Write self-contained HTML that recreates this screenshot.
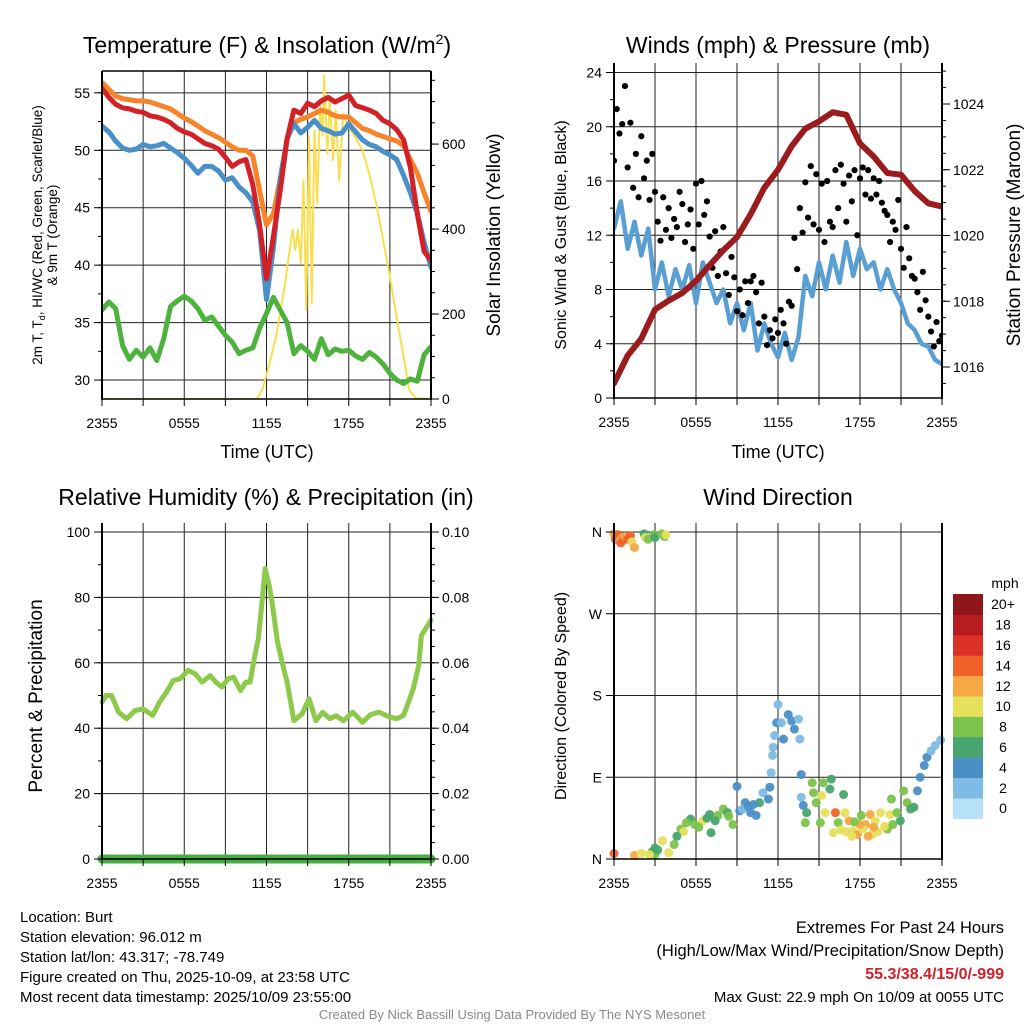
<!DOCTYPE html>
<html><head><meta charset="utf-8"><style>
html,body{margin:0;padding:0;background:#fff;}
svg{display:block;font-family:"Liberation Sans",Arial,sans-serif;}
</style></head><body>
<svg id="chart" width="1024" height="1024" viewBox="0 0 1024 1024" xmlns="http://www.w3.org/2000/svg">
<defs>
<clipPath id="c1"><rect x="102" y="70" width="329" height="329"/></clipPath>
<clipPath id="c2"><rect x="614" y="63" width="328" height="335"/></clipPath>
<clipPath id="c3"><rect x="95" y="523" width="345" height="345"/></clipPath>
<clipPath id="c4"><rect x="606" y="523" width="344" height="345"/></clipPath>
</defs>
<g id="layer"></g>
<text x="267" y="53" font-size="23" text-anchor="middle">Temperature (F) &amp; Insolation (W/m<tspan font-size="14" dy="-9">2</tspan><tspan dy="9">)</tspan></text>
<text x="778" y="53" font-size="23" text-anchor="middle">Winds (mph) &amp; Pressure (mb)</text>
<text x="266" y="505" font-size="23" text-anchor="middle">Relative Humidity (%) &amp; Precipitation (in)</text>
<text x="778" y="505" font-size="23" text-anchor="middle">Wind Direction</text>
<text x="267" y="458" font-size="18" text-anchor="middle">Time (UTC)</text>
<text x="778" y="458" font-size="18" text-anchor="middle">Time (UTC)</text>
<text transform="translate(42,235) rotate(-90)" font-size="13.5" text-anchor="middle">2m T, T<tspan font-size="9" dy="3">d</tspan><tspan dy="-3">, HI/WC (Red, Green, Scarlet/Blue)</tspan></text>
<text transform="translate(57,235) rotate(-90)" font-size="13.5" text-anchor="middle">&amp; 9m T (Orange)</text>
<text transform="translate(500,235) rotate(-90)" font-size="19" text-anchor="middle">Solar Insolation (Yellow)</text>
<text transform="translate(566,235) rotate(-90)" font-size="16" text-anchor="middle">Sonic Wind &amp; Gust (Blue, Black)</text>
<text transform="translate(1020,235) rotate(-90)" font-size="19" text-anchor="middle">Station Pressure (Maroon)</text>
<text transform="translate(42,696) rotate(-90)" font-size="19" text-anchor="middle">Percent &amp; Precipitation</text>
<text transform="translate(566,696) rotate(-90)" font-size="16" text-anchor="middle">Direction (Colored By Speed)</text>
<g font-size="15">
<text x="20" y="922">Location: Burt</text>
<text x="20" y="942">Station elevation: 96.012 m</text>
<text x="20" y="962">Station lat/lon: 43.317; -78.749</text>
<text x="20" y="982">Figure created on Thu, 2025-10-09, at 23:58 UTC</text>
<text x="20" y="1002">Most recent data timestamp: 2025/10/09 23:55:00</text>
</g>
<g text-anchor="end">
<text x="1004" y="933" font-size="16.5">Extremes For Past 24 Hours</text>
<text x="1004" y="956" font-size="16.5">(High/Low/Max Wind/Precipitation/Snow Depth)</text>
<text x="1004" y="979" font-size="16" font-weight="bold" fill="#d0202a">55.3/38.4/15/0/-999</text>
<text x="1004" y="1002" font-size="15">Max Gust: 22.9 mph On 10/09 at 0055 UTC</text>
</g>
<text x="512" y="1019" font-size="13" fill="#8a8a8a" text-anchor="middle">Created By Nick Bassill Using Data Provided By The NYS Mesonet</text>
</svg>
<script>
// ---- data (hours since 2355 UTC) ----
const halfHours = [0,0.5,1,1.5,2,2.5,3,3.5,4,4.5,5,5.5,6,6.5,7,7.5,8,8.5,9,9.5,10,10.5,11,11.5,12,12.5,13,13.5,14,14.5,15,15.5,16,16.5,17,17.5,18,18.5,19,19.5,20,20.5,21,21.5,22,22.5,23,23.5,24];
const tempRed = [55.4,54.6,54.0,53.7,53.6,53.4,53.3,53.0,52.9,52.7,52.4,51.9,51.6,51.4,51.0,50.6,50.4,50.1,49.4,48.6,49.0,49.2,47.0,43.5,38.8,42.5,46.5,51.0,53.5,53.2,54.1,53.8,54.3,54.6,54.2,54.5,54.8,53.9,53.7,53.5,53.2,52.6,52.3,51.8,50.9,48.5,44.5,41.2,40.4];
const tempOrange = [55.9,55.3,54.7,54.5,54.4,54.3,54.3,54.2,54.0,53.8,53.6,53.2,52.8,52.5,52.1,51.7,51.4,51.1,50.7,50.3,50.0,50.0,49.5,46.5,43.5,44.5,47.5,51.0,52.4,52.7,52.9,53.2,53.5,53.3,53.0,52.9,52.9,52.4,51.9,51.7,51.4,51.2,51.0,50.8,50.4,49.2,48.0,46.3,44.7];
const windChill = [52.1,51.6,50.8,50.2,50.0,50.1,50.5,50.3,50.4,50.6,50.2,49.8,49.3,48.7,48.0,48.6,48.6,48.2,47.4,47.6,46.8,46.3,45.5,43.0,37.0,41.5,47.5,51.0,52.3,51.5,52.0,52.6,51.9,51.7,51.4,51.5,52.3,51.6,50.9,50.5,50.3,49.9,49.6,49.2,47.8,46.3,44.5,42.0,39.8];
const dewPoint = [36.1,36.8,36.2,33.0,31.8,32.6,32.0,32.8,31.7,33.6,36.4,36.9,37.3,36.9,36.2,35.2,35.5,34.7,33.9,33.3,32.3,32.6,32.8,34.5,35.8,37.2,36.1,35.0,32.3,33.0,32.5,31.8,33.6,32.2,32.7,32.5,32.6,32.1,31.8,32.4,32.0,31.4,30.6,30.0,29.7,30.1,29.9,32.2,32.9];
const solarTimes = [0,11.3,11.7,12.2,12.7,13.3,13.9,14.1,14.3,14.5,14.7,14.9,15.1,15.3,15.5,15.7,15.9,16.1,16.2,16.45,16.6,16.85,17.05,17.3,17.6,18.0,18.5,19.0,19.5,20.0,20.5,21.0,21.5,22.0,22.4,22.9,24];
const solarVals = [0,0,22,80,147,260,398,351,398,320,515,210,617,225,633,460,690,620,762,578,711,562,680,515,672,640,615,586,530,460,375,288,190,100,22,2,0];
const windHalf = [12.5,14.5,11.0,13.0,10.5,12.5,8.0,10.0,7.5,9.5,8.0,9.8,7.0,10.0,8.5,7.0,8.0,5.5,7.0,5.0,7.0,3.5,5.5,4.0,3.0,4.8,2.8,4.5,9.0,7.5,10.0,8.0,10.5,8.5,11.5,9.0,11.0,9.5,10.0,8.0,9.5,8.0,7.0,5.5,5.0,4.0,3.8,2.8,2.5];
const gustVals = [17.5,21.3,19.5,20.2,23.0,17.0,20.3,15.5,18.0,14.8,19.3,16.2,17.5,14.6,18.0,15.2,13.0,11.6,14.8,12.4,14.0,11.8,13.2,12.6,15.2,14.3,11.5,12.8,13.9,11.0,15.8,12.8,16.0,13.5,14.5,11.9,9.6,12.3,9.0,10.8,12.6,9.2,7.6,10.4,8.9,6.4,8.0,6.1,8.6,7.0,8.6,9.0,7.8,5.5,8.5,6.0,3.9,5.0,4.4,5.8,4.8,6.5,5.5,4.0,7.1,6.8,11.8,9.5,14.0,12.2,15.9,13.3,17.1,12.8,16.5,12.4,15.8,11.5,16.0,13.0,12.6,16.8,14.0,17.2,15.8,13.0,16.4,14.5,16.8,12.0,16.2,17.0,15.0,16.8,14.7,16.2,15.0,16.0,14.4,13.8,13.5,11.5,13.0,12.4,14.6,11.0,9.6,12.6,10.3,9.0,8.8,7.8,6.5,9.3,7.2,6.0,4.9,3.8,5.6,4.2,4.6];
const gustStep = 0.2;
const pressHours = [0,1,2,3,4,5,6,7,8,9,10,11,12,13,14,15,16,17,18,19,20,21,22,23,24];
const pressVals = [1015.5,1016.35,1016.86,1017.75,1018.02,1018.25,1018.62,1019.1,1019.55,1019.95,1020.65,1021.45,1022.0,1022.72,1023.25,1023.47,1023.75,1023.67,1022.8,1022.4,1021.9,1021.85,1021.35,1020.98,1020.88];
const rhTimes = [0,0.3,0.7,1.2,1.8,2.4,3,3.7,4.2,4.7,5.2,5.7,6.3,6.8,7.3,7.9,8.3,8.75,9.2,9.6,10.1,10.5,10.8,11.1,11.4,11.7,11.9,12.2,12.4,12.8,13.2,13.5,14,14.6,15.1,15.6,16.1,16.6,17.1,17.6,18.3,19,19.6,20.2,21,21.5,22,22.7,23.1,23.3,23.7,24];
const rhVals = [48,50,50,44.9,42.9,45.4,45.9,43.9,48,51,54.6,55.1,57.7,56.6,54.1,56.1,54.1,52.6,55.1,55.6,51.5,54.1,54.1,61.2,67.3,79.6,88.8,83.7,78.6,66.3,59.2,54.1,42.3,44.4,49,42.3,44.9,42.9,43.8,42.3,44.9,41.8,44.2,44.9,43.4,42.9,43.9,52,59.2,68.4,71,73];
const precipTimes = [0,24];
const precipVals = [0,0];
const dirTimes = [0.0,0.1,0.2,0.3,0.4,0.5,0.6,0.7,0.8,1.0,1.2,1.3,1.5,2.2,2.3,2.5,2.9,3.0,3.5,3.7,3.8,0.0,1.5,2.0,2.8,3.0,3.55,4.0,4.4,4.9,5.1,5.6,5.9,6.5,7.1,7.0,7.6,8.0,8.3,8.7,9.0,9.2,9.6,10.0,10.4,10.65,10.9,11.3,11.4,11.5,11.6,11.65,11.75,11.9,12.0,12.25,12.4,12.75,13.0,13.2,13.5,13.6,13.7,13.7,13.85,14.1,14.0,14.5,14.6,14.8,15.1,15.2,15.3,15.45,15.8,15.9,16.2,16.05,16.4,16.8,16.9,17.2,17.5,17.8,18.1,18.4,18.75,18.9,19.1,19.5,20.0,20.2,20.3,20.7,20.95,21.2,21.45,21.7,21.95,22.2,22.4,22.7,22.9,23.2,23.5,23.9,17.0,17.4,18.2,18.6,19.3,19.8,20.4,16.6,19.0,18.0,17.6,4.6,5.3,6.2,6.8,7.4,8.4,9.4,9.8,10.2,3.2,2.6,3.0];
const dirVals = [358,352,355,357,350,348,354,352,355,352,356,349,343,358,354,352,357,354,358,355,357,6,4,6,8,5,20,7,16,33,30,44,38,42,29,49,48,55,51,38,80,53,62,51,48,62,73,66,79,95,114,123,136,150,170,150,132,159,152,143,154,132,93,68,59,51,40,84,73,62,40,70,84,51,77,88,51,29,40,71,51,42,31,27,48,38,49,27,42,51,33,49,66,51,42,75,62,55,57,75,90,103,112,119,125,131,30,25,33,25,30,36,38,32,35,38,41,25,40,35,45,42,47,55,58,60,10,5,12];
const dirSpeeds = [13,15,14,15,13,15,12,14,13,15,14,11,12,7,10,9,8,7,8,8,10,15,13,11,7,9,11,11,9,9,11,7,9,11,7,7,9,9,7,9,5,5,5,5,5,7,3,5,5,3,3,3,3,5,3,3,5,5,5,5,3,3,5,3,5,7,9,9,9,9,9,11,9,11,7,7,15,11,9,7,11,13,11,13,9,13,13,11,11,11,9,11,9,9,7,9,9,7,7,5,5,5,5,3,3,3,11,11,11,13,11,11,9,11,13,13,9,7,9,9,7,7,9,3,5,5,7,11,7];
const speedColors = ['#b6e1f6','#7fbce5','#4a8fc6','#48a56f','#7bc34a','#e6e05c','#f6a844','#f0622a','#dc3127','#b81c23','#8f1619'];
const xTickLabels = ['2355','0555','1155','1755','2355'];
const dirTickLabels = ['N','E','S','W','N'];

// ---- helpers ----
const NS = 'http://www.w3.org/2000/svg';
const layer = document.getElementById('layer');
function mk(tag, attrs, parent) {
  const el = document.createElementNS(NS, tag);
  for (const k in attrs) el.setAttribute(k, attrs[k]);
  (parent || layer).appendChild(el);
  return el;
}
function scale(d0, d1, r0, r1) { return v => r0 + (v - d0) / (d1 - d0) * (r1 - r0); }

function drawFrame(p, name) {
  const g = mk('g', {});
  
  
  for (let h = 3; h < 24; h += 3) {
    const x = p.x(h);
    const ln = mk('line', {x1: x, x2: x, y1: p.y0, y2: p.y1, stroke: '#222', 'stroke-width': 1}, g);
    
    
  }
  p.hgrid.forEach(v => {
    const y = p.yl(v);
    const ln = mk('line', {x1: p.x0, x2: p.x1, y1: y, y2: y, stroke: '#222', 'stroke-width': 1}, g);
    
    
  });
}
function drawAxes(p, name) {
  const g = mk('g', {'font-size': 14});
  
  
  mk('line', {x1: p.x0, x2: p.x0, y1: p.y0, y2: p.y1 + 1, stroke: '#000', 'stroke-width': 2}, g);
  mk('line', {x1: p.x1, x2: p.x1, y1: p.y0, y2: p.y1 + 1, stroke: '#000', 'stroke-width': 2}, g);
  mk('line', {x1: p.x0, x2: p.x1, y1: p.y1, y2: p.y1, stroke: '#000', 'stroke-width': 1.5}, g);
  if (p.top) mk('line', {x1: p.x0, x2: p.x1, y1: p.y0, y2: p.y0, stroke: '#000', 'stroke-width': 1.5}, g);
  for (let h = 0; h <= 24; h += 3) {
    const x = p.x(h);
    mk('line', {x1: x, x2: x, y1: p.y1, y2: p.y1 + 7, stroke: '#000', 'stroke-width': 1}, g);
  }
  xTickLabels.forEach((s, i) => {
    const t = mk('text', {x: p.x(i * 6), y: p.y1 + 29, 'text-anchor': 'middle'}, g);
    t.textContent = s;
    
    
  });
  p.lMinor.forEach(v => { const y = p.yl(v); mk('line', {x1: p.x0 - 4, x2: p.x0, y1: y, y2: y, stroke: '#000', 'stroke-width': 1}, g); });
  p.lMajor.forEach((v, i) => {
    const y = p.yl(v);
    mk('line', {x1: p.x0 - 8, x2: p.x0, y1: y, y2: y, stroke: '#000', 'stroke-width': 1}, g);
    const t = mk('text', {x: p.x0 - 12, y: y + 5, 'text-anchor': 'end'}, g);
    t.textContent = p.lLabels[i];
    
    
  });
  if (p.yr) {
    p.rMinor.forEach(v => { const y = p.yr(v); mk('line', {x1: p.x1, x2: p.x1 + 4, y1: y, y2: y, stroke: '#000', 'stroke-width': 1}, g); });
    p.rMajor.forEach((v, i) => {
      const y = p.yr(v);
      mk('line', {x1: p.x1, x2: p.x1 + 8, y1: y, y2: y, stroke: '#000', 'stroke-width': 1}, g);
      const t = mk('text', {x: p.x1 + 11, y: y + 5, 'text-anchor': 'start'}, g);
      t.textContent = p.rLabels[i];
      
      
    });
  }
}
function path(xs, ys, fx, fy, color, w, clip, name) {
  let d = '';
  xs.forEach((h, i) => { d += (i ? 'L' : 'M') + fx(h).toFixed(1) + ',' + fy(ys[i]).toFixed(1); });
  const el = mk('path', {d: d, fill: 'none', stroke: color, 'stroke-width': w, 'stroke-linejoin': 'round', 'stroke-linecap': 'round', 'clip-path': 'url(#' + clip + ')'});
  
  
  return el;
}
function range(a, b, s) { const r = []; for (let v = a; v <= b + 1e-9; v += s) r.push(+v.toFixed(4)); return r; }

// ---- panel 1: temperature & insolation ----
const p1 = {x0: 102, x1: 431, y0: 71, y1: 399, top: true};
p1.x = scale(0, 24, p1.x0, p1.x1);
p1.yl = scale(28.35, 56.9, p1.y1, p1.y0);
p1.yr = scale(0, 772, p1.y1, p1.y0);
p1.hgrid = [30,35,40,45,50,55];
p1.lMajor = [30,35,40,45,50,55]; p1.lLabels = ['30','35','40','45','50','55'];
p1.lMinor = range(30, 55, 2.5);
p1.rMajor = [0,200,400,600]; p1.rLabels = ['0','200','400','600'];
p1.rMinor = range(0, 750, 50);
drawFrame(p1, 'temperature');
path(solarTimes, solarVals, p1.x, p1.yr, '#f9df4f', 2, 'c1', 'solar-insolation-line');
path(halfHours, dewPoint, p1.x, p1.yl, '#4db33d', 5, 'c1', 'dewpoint-line');
path(halfHours, tempOrange, p1.x, p1.yl, '#f7842a', 5, 'c1', 'temp-9m-line');
path(halfHours, windChill, p1.x, p1.yl, '#4a90c8', 5, 'c1', 'wind-chill-line');
path(halfHours, tempRed, p1.x, p1.yl, '#d42027', 5, 'c1', 'temp-2m-line');
drawAxes(p1, 'temperature');

// ---- panel 2: winds & pressure ----
const p2 = {x0: 614, x1: 942, y0: 63, y1: 398};
p2.x = scale(0, 24, p2.x0, p2.x1);
p2.yl = scale(0, 24, p2.y1, 72.5);
p2.yr = scale(1016, 1024, 367, 104);
p2.hgrid = [4,8,12,16,20,24];
p2.lMajor = [0,4,8,12,16,20,24]; p2.lLabels = ['0','4','8','12','16','20','24'];
p2.lMinor = range(0, 24, 2);
p2.rMajor = [1016,1018,1020,1022,1024]; p2.rLabels = ['1016','1018','1020','1022','1024'];
p2.rMinor = range(1015.5, 1025, 0.5);
drawFrame(p2, 'winds');
path(halfHours, windHalf, p2.x, p2.yl, '#5a9fd4', 4.5, 'c2', 'sonic-wind-line');
const gg = mk('g', {'clip-path': 'url(#c2)'});


gustVals.forEach((v, i) => {
  const c = mk('circle', {cx: p2.x(i * gustStep), cy: p2.yl(v), r: 3.1, fill: '#000'}, gg);
  
  
});
path(pressHours, pressVals, p2.x, p2.yr, '#9b1b1e', 6, 'c2', 'pressure-line');
drawAxes(p2, 'winds');

// ---- panel 3: RH & precipitation ----
const p3 = {x0: 102, x1: 431, y0: 523, y1: 859};
p3.x = scale(0, 24, p3.x0, p3.x1);
p3.yl = scale(0, 100, p3.y1, 532);
p3.yr = scale(0, 0.1, p3.y1, 532);
p3.hgrid = [20,40,60,80,100];
p3.lMajor = [0,20,40,60,80,100]; p3.lLabels = ['0','20','40','60','80','100'];
p3.lMinor = range(0, 100, 10);
p3.rMajor = [0,0.02,0.04,0.06,0.08,0.1]; p3.rLabels = ['0.00','0.02','0.04','0.06','0.08','0.10'];
p3.rMinor = range(0, 0.1, 0.005);
drawFrame(p3, 'humidity');
path(rhTimes, rhVals, p3.x, p3.yl, '#8dc94b', 5, 'c3', 'relative-humidity-line');
path(precipTimes, precipVals, p3.x, p3.yr, '#49ad45', 9, 'c3', 'precipitation-line');
drawAxes(p3, 'humidity');

// ---- panel 4: wind direction ----
const p4 = {x0: 614, x1: 942, y0: 523, y1: 859};
p4.x = scale(0, 24, p4.x0, p4.x1);
p4.yl = scale(0, 360, p4.y1, 532);
p4.hgrid = [90,180,270,360];
p4.lMajor = [0,90,180,270,360]; p4.lLabels = dirTickLabels;
p4.lMinor = [];
drawFrame(p4, 'wind-direction');
const dg = mk('g', {'clip-path': 'url(#c4)'});


dirVals.forEach((v, i) => {
  const bin = Math.min(10, Math.floor(dirSpeeds[i] / 2));
  const c = mk('circle', {cx: p4.x(dirTimes[i]), cy: p4.yl(v), r: 4.5, fill: speedColors[bin], 'fill-opacity': 0.95}, dg);
  
  
});
drawAxes(p4, 'wind-direction');

// ---- colorbar ----
const cbLabels = ['0','2','4','6','8','10','12','14','16','18','20+'];
const cb = mk('g', {'font-size': 14});


const cbTop = 594, cbH = 20.4;
speedColors.forEach((col, i) => {
  const k = speedColors.length - 1 - i;
  const r = mk('rect', {x: 953, y: cbTop + k * cbH, width: 30, height: cbH + 0.5, fill: col}, cb);
  
  
  const t = mk('text', {x: 1003, y: cbTop + k * cbH + cbH / 2 + 5, 'text-anchor': 'middle'}, cb);
  t.textContent = cbLabels[i];
  
  
});
const mph = mk('text', {x: 1005, y: 588, 'text-anchor': 'middle', 'font-size': 14}, cb);
mph.textContent = 'mph';


</script>
</body></html>
